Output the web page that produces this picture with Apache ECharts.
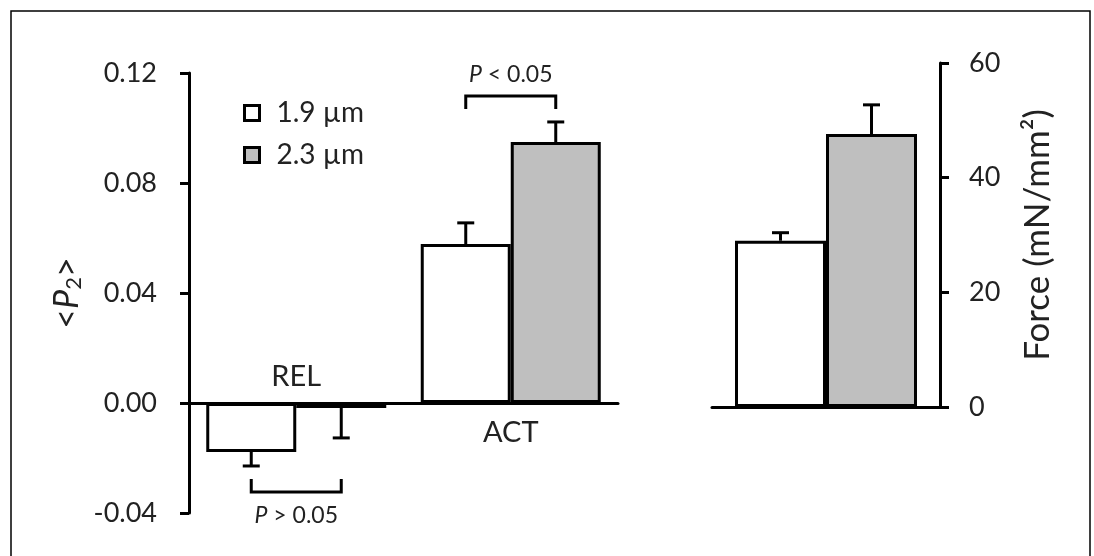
<!DOCTYPE html>
<html>
<head>
<meta charset="utf-8">
<script src="https://cdn.jsdelivr.net/npm/echarts@6/dist/echarts.min.js"></script>
<style>
  html, body { margin: 0; padding: 0; background: #fff; }
  #chart { width: 1094px; height: 556px; }
</style>
</head>
<body>
<div id="chart"></div>
<script>
// ---- data ----
const categories = ['REL', 'ACT'];
const seriesNames = ['1.9 µm', '2.3 µm'];
const p2Mean19 = [-0.0178, 0.0578];
const p2Err19 = [0.0051, 0.0077];
const p2Mean23 = [-0.0018, 0.0949];
const p2Err23 = [0.0109, 0.0073];
const forceCategories = ['Force'];
const forceMean19 = [29.0];
const forceErr19 = [1.4];
const forceMean23 = [47.6];
const forceErr23 = [5.1];
const p2Ticks = [-0.04, 0.00, 0.04, 0.08, 0.12];
const forceTicks = [0, 20, 40, 60];
const pLabels = ['P > 0.05', 'P < 0.05'];

// ---- style ----
const FONT = 'Lato';
const TXT = '#222';
const BAR_W0 = 90;
const BAR_W1 = 91;
const LW = 3;

const chart = echarts.init(document.getElementById('chart'));

function errRender(barW) {
  return function (params, api) {
    const cat = api.value(0), mean = api.value(1), err = api.value(2), k = api.value(3);
    const dir = mean >= 0 ? 1 : -1;
    const base = api.coord([cat, mean]);
    const tip = api.coord([cat, mean + dir * err]);
    const x = base[0] + (k - 0.5) * barW;
    const cap = 17;
    return {
      type: 'group',
      children: [
        { type: 'line', shape: { x1: x, y1: base[1], x2: x, y2: tip[1] }, style: { stroke: '#000', lineWidth: LW } },
        { type: 'line', shape: { x1: x - cap / 2, y1: tip[1], x2: x + cap / 2, y2: tip[1] }, style: { stroke: '#000', lineWidth: LW } }
      ]
    };
  };
}

function bracketRender(params, api) {
  const cat = api.value(0), e0 = api.value(1), e1 = api.value(2), dir = api.value(3);
  const label = pLabels[params.dataIndex];
  const p0 = api.coord([cat, e0]);
  const p1 = api.coord([cat, e1]);
  const edge = dir > 0 ? Math.min(p0[1], p1[1]) : Math.max(p0[1], p1[1]);
  const legEnd = edge - dir * 13;
  const barY = edge - dir * 26;
  const textY = barY - dir * (dir > 0 ? 21 : 24);
  const xl = p0[0] - BAR_W0 / 2, xr = p0[0] + BAR_W0 / 2;
  return {
    type: 'group',
    children: [
      { type: 'polyline', shape: { points: [[xl, legEnd], [xl, barY], [xr, barY], [xr, legEnd]] },
        style: { stroke: '#000', lineWidth: LW, fill: null } },
      { type: 'text', x: (xl + xr) / 2, y: textY,
        style: { text: label.replace('P', '{i|P}'), rich: { i: { fontStyle: 'italic', fontSize: 23, fontFamily: FONT, fill: TXT } },
          fontSize: 23, fontFamily: FONT, fill: TXT, align: 'center', verticalAlign: 'middle' } }
    ]
  };
}

function catLabelRender(params, api) {
  const cat = api.value(0), dir = api.value(1);
  const p = api.coord([cat, 0]);
  return {
    type: 'text', x: p[0], y: p[1] + (dir > 0 ? 30 : -26),
    style: { text: categories[cat], fontSize: 29, fontFamily: FONT, fill: TXT, align: 'center', verticalAlign: 'middle' }
  };
}

const errData0 = categories.map((c, i) => [i, p2Mean19[i], p2Err19[i], 0])
  .concat(categories.map((c, i) => [i, p2Mean23[i], p2Err23[i], 1]));
const errData1 = forceCategories.map((c, i) => [i, forceMean19[i], forceErr19[i], 0])
  .concat(forceCategories.map((c, i) => [i, forceMean23[i], forceErr23[i], 1]));
const bracketData = categories.map((c, i) => {
  const dir = (p2Mean19[i] + p2Mean23[i]) >= 0 ? 1 : -1;
  const ext19 = p2Mean19[i] + (p2Mean19[i] >= 0 ? 1 : -1) * p2Err19[i];
  const ext23 = p2Mean23[i] + (p2Mean23[i] >= 0 ? 1 : -1) * p2Err23[i];
  return [i, ext19, ext23, dir];
});
const catLabelData = categories.map((c, i) => [i, (p2Mean19[i] + p2Mean23[i]) >= 0 ? 1 : -1]);

const axisLineStyle = { color: '#000', width: LW };
const tickLabel = { fontSize: 27, fontFamily: FONT, color: TXT };

const option = {
  backgroundColor: '#fff',
  animation: false,
  legend: {
    orient: 'vertical', left: 243, top: 99, padding: 0,
    icon: 'rect', itemWidth: 15, itemHeight: 15, itemGap: 14,
    data: seriesNames,
    itemStyle: { borderColor: '#000', borderWidth: 3 },
    textStyle: { fontSize: 28, fontFamily: FONT, color: TXT, padding: [0, 0, 0, 12] },
    selectedMode: false
  },
  grid: [
    { left: 189, top: 73, width: 429, height: 440 },
    { left: 712, top: 63, width: 228, height: 344 }
  ],
  xAxis: [
    { type: 'category', gridIndex: 0, data: categories,
      axisLine: { onZero: true, lineStyle: axisLineStyle }, axisTick: { show: false }, axisLabel: { show: false } },
    { type: 'category', gridIndex: 1, data: forceCategories,
      axisLine: { lineStyle: axisLineStyle }, axisTick: { show: false }, axisLabel: { show: false } }
  ],
  yAxis: [
    { type: 'value', gridIndex: 0, min: p2Ticks[0], max: p2Ticks[p2Ticks.length - 1], interval: 0.04,
      axisLine: { show: true, onZero: false, lineStyle: axisLineStyle },
      axisTick: { show: true, length: 9, lineStyle: { color: '#000', width: LW } },
      splitLine: { show: false },
      axisLabel: Object.assign({ margin: 32, formatter: v => v.toFixed(2) }, tickLabel),
      name: '<{i|P}{s|2}>', nameLocation: 'middle', nameGap: 104, nameRotate: 90,
      nameTextStyle: { fontSize: 34, fontFamily: FONT, color: TXT,
        rich: {
          i: { fontSize: 34, fontFamily: FONT, fontStyle: 'italic', color: TXT },
          s: { fontSize: 22, fontFamily: FONT, color: TXT, padding: [13, 0, 0, 0] }
        } }
    },
    { type: 'value', gridIndex: 1, position: 'right', min: forceTicks[0], max: forceTicks[forceTicks.length - 1], interval: 20,
      axisLine: { show: true, onZero: false, lineStyle: axisLineStyle },
      axisTick: { show: true, length: 9, lineStyle: { color: '#000', width: LW } },
      splitLine: { show: false },
      axisLabel: Object.assign({ margin: 29 }, tickLabel),
      name: 'Force (mN/mm²)', nameLocation: 'middle', nameGap: 80, nameRotate: 90,
      nameTextStyle: { fontSize: 35, fontFamily: FONT, color: TXT }
    }
  ],
  series: [
    { type: 'bar', name: seriesNames[0], xAxisIndex: 0, yAxisIndex: 0, data: p2Mean19, barWidth: BAR_W0, barGap: '0%',
      itemStyle: { color: '#fff', borderColor: '#000', borderWidth: LW } },
    { type: 'bar', name: seriesNames[1], xAxisIndex: 0, yAxisIndex: 0, data: p2Mean23, barWidth: BAR_W0, barGap: '0%',
      itemStyle: { color: '#bfbfbf', borderColor: '#000', borderWidth: LW } },
    { type: 'bar', name: seriesNames[0], xAxisIndex: 1, yAxisIndex: 1, data: forceMean19, barWidth: BAR_W1, barGap: '0%',
      itemStyle: { color: '#fff', borderColor: '#000', borderWidth: LW } },
    { type: 'bar', name: seriesNames[1], xAxisIndex: 1, yAxisIndex: 1, data: forceMean23, barWidth: BAR_W1, barGap: '0%',
      itemStyle: { color: '#bfbfbf', borderColor: '#000', borderWidth: LW } },
    { type: 'custom', xAxisIndex: 0, yAxisIndex: 0, data: errData0, renderItem: errRender(BAR_W0), z: 1, silent: true },
    { type: 'custom', xAxisIndex: 1, yAxisIndex: 1, data: errData1, renderItem: errRender(BAR_W1), z: 1, silent: true },
    { type: 'custom', xAxisIndex: 0, yAxisIndex: 0, data: bracketData, renderItem: bracketRender, z: 3, silent: true },
    { type: 'custom', xAxisIndex: 0, yAxisIndex: 0, data: catLabelData, renderItem: catLabelRender, z: 3, silent: true }
  ],
  graphic: [
    { type: 'polyline', shape: { points: [[11, 560], [11, 11], [1090, 11], [1090, 560]] },
      style: { stroke: '#000', lineWidth: 1.5, fill: null }, silent: true }
  ]
};
chart.setOption(option);
</script>
</body>
</html>
